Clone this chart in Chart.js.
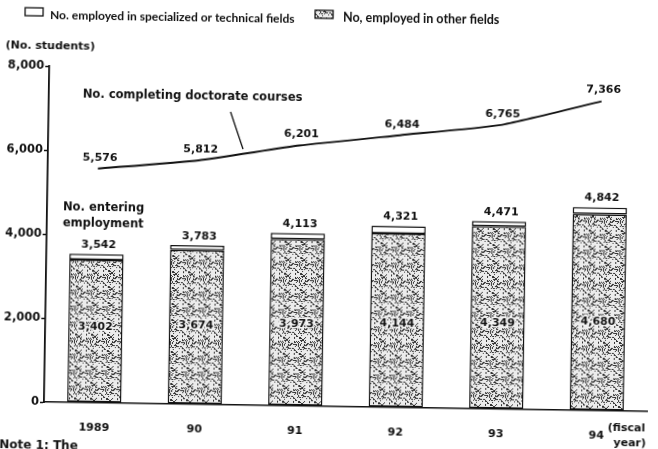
<!DOCTYPE html>
<html>
<head>
<meta charset="utf-8">
<script src="https://cdn.jsdelivr.net/npm/chart.js@4/dist/chart.umd.min.js"></script>
<style>
  html, body { margin: 0; padding: 0; background: #fff; overflow: hidden; }
  #chart {
    display: block;
    /* the scan is a little crooked */
    transform: rotate(0.9deg);
    transform-origin: 44px 402px;
  }
</style>
</head>
<body>
<canvas id="chart" width="658" height="449"></canvas>
<script>
const years = ['1989', '90', '91', '92', '93', '94'];
const doctorates = [5576, 5812, 6201, 6484, 6765, 7366];
const employedTotal = [3542, 3783, 4113, 4321, 4471, 4842];
const specialized = [3402, 3674, 3973, 4144, 4349, 4680];
const otherFields = employedTotal.map((t, i) => t - specialized[i]);
const yTicks = [0, 2000, 4000, 6000, 8000];

const INK = '#111';
const NUM_FONT = 'bold 11px "DejaVu Sans"';
const fmt = v => v.toLocaleString('en-US');

// stippled fill like the printed screen
function makeStipple() {
    const c = document.createElement('canvas');
    c.width = 16; c.height = 16;
    const g = c.getContext('2d');
    g.fillStyle = '#ececec';
    g.fillRect(0, 0, 16, 16);
    g.fillStyle = '#333';
    for (let i = 0; i < 16; i++) {
        for (let j = 0; j < 16; j++) {
            const h = ((i * 73856093) ^ (j * 19349663) ^ (i * j * 83492791)) >>> 0;
            if (h % 100 < 27) g.fillRect(i, j, 1, 1);
        }
    }
    return g.createPattern(c, 'repeat');
}

const stipple = makeStipple();

function text(ctx, str, x, y, font, align, base) {
    ctx.font = font;
    ctx.textAlign = align || 'center';
    ctx.textBaseline = base || 'middle';
    ctx.fillText(str, x, y);
}

const labelsPlugin = {
    id: 'labels',
    afterDatasetsDraw(chart) {
        const ctx = chart.ctx;
        const x = chart.scales.x, y = chart.scales.y;
        ctx.save();

        // legend
        ctx.strokeStyle = INK;
        ctx.lineWidth = 1.3;
        ctx.fillStyle = '#fff';
        ctx.fillRect(19, 8, 18, 8);
        ctx.strokeRect(19, 8, 18, 8);
        ctx.fillStyle = stipple;
        ctx.fillRect(309, 6, 18, 8);
        ctx.strokeRect(309, 6, 18, 8);
        ctx.fillStyle = INK;
        text(ctx, 'No. employed in specialized or technical fields', 44, 15, 'bold 12px Lato', 'left');
        text(ctx, 'No, employed in other fields', 337, 13, 'bold 12.5px Lato', 'left');
        text(ctx, '(No. students)', 0, 46, 'bold 11px "DejaVu Sans"', 'left');

        // doctorate line values
        doctorates.forEach((v, i) => {
            text(ctx, fmt(v), x.getPixelForValue(i) + 2, y.getPixelForValue(v) - 11, NUM_FONT);
        });
        // totals above bars and inner values
        employedTotal.forEach((v, i) => {
            text(ctx, fmt(v), x.getPixelForValue(i) + 2, y.getPixelForValue(v) - 9, NUM_FONT);
        });
        specialized.forEach((v, i) => {
            const cx = x.getPixelForValue(i);
            const cy = y.getPixelForValue((v / 2 + 1900) / 2);
            ctx.font = NUM_FONT;
            ctx.textAlign = 'center';
            ctx.textBaseline = 'middle';
            ctx.strokeStyle = '#f4f4f4';
            ctx.lineWidth = 3;
            ctx.strokeText(fmt(v), cx, cy);
            ctx.fillText(fmt(v), cx, cy);
        });

        // annotations
        text(ctx, 'No. completing doctorate courses', 78, 94, 'bold 11.5px "DejaVu Sans"', 'left');
        ctx.strokeStyle = INK;
        ctx.lineWidth = 1.3;
        ctx.beginPath();
        ctx.moveTo(226, 109);
        ctx.lineTo(239, 146);
        ctx.stroke();
        text(ctx, 'No. entering', 60, 207, 'bold 11.5px "DejaVu Sans"', 'left');
        text(ctx, 'employment', 60, 223, 'bold 11.5px "DejaVu Sans"', 'left');

        text(ctx, '(fiscal', 608, 419, 'bold 11px "DejaVu Sans"', 'left');
        text(ctx, 'year)', 614, 434, 'bold 11px "DejaVu Sans"', 'left');
        text(ctx, 'Note 1: The', 0, 440, 'bold 12px "DejaVu Sans"', 'left', 'top');
        ctx.restore();
    }
};

new Chart(document.getElementById('chart'), {
    data: {
        labels: years,
        datasets: [
            {
                type: 'line',
                label: 'No. completing doctorate courses',
                data: doctorates,
                stack: 'doc',
                borderColor: INK,
                borderWidth: 2,
                pointRadius: 0,
                tension: 0.15,
                fill: false,
                order: 0
            },
            {
                type: 'bar',
                label: 'No. employed in specialized or technical fields',
                data: specialized,
                stack: 'emp',
                backgroundColor: stipple,
                borderColor: INK,
                borderWidth: 1.5,
                borderSkipped: false,
                order: 1
            },
            {
                type: 'bar',
                label: 'No. employed in other fields',
                data: otherFields,
                stack: 'emp',
                backgroundColor: '#fff',
                borderColor: INK,
                borderWidth: 1.5,
                borderSkipped: false,
                order: 1
            }
        ]
    },
    options: {
        responsive: false,
        animation: false,
        layout: { padding: { top: 66, right: 11, left: 0, bottom: 0 } },
        datasets: { bar: { categoryPercentage: 1, barPercentage: 0.54 } },
        plugins: { legend: { display: false }, tooltip: { enabled: false } },
        scales: {
            x: {
                stacked: true,
                afterFit: s => { s.height = 47; },
                grid: { drawOnChartArea: false, drawTicks: false },
                border: { color: INK, width: 1.6 },
                ticks: { color: INK, padding: 19, font: { family: 'DejaVu Sans', weight: 'bold', size: 11 } }
            },
            y: {
                stacked: true,
                min: 0,
                max: 8000,
                afterFit: s => { s.width = 44; },
                afterBuildTicks: s => { s.ticks = yTicks.map(v => ({ value: v })); },
                grid: { drawOnChartArea: false, tickLength: 4, color: INK, tickWidth: 1.5 },
                border: { color: INK, width: 1.8 },
                ticks: {
                    color: INK,
                    padding: 1,
                    font: { family: 'DejaVu Sans', weight: 'bold', size: 11.5 },
                    callback: v => fmt(v)
                }
            }
        }
    },
    plugins: [labelsPlugin]
});
</script>
</body>
</html>
